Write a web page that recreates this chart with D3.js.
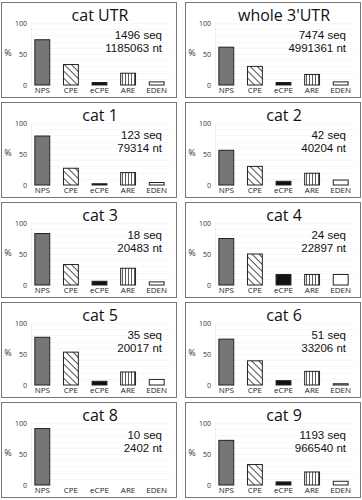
<!DOCTYPE html>
<html><head><meta charset="utf-8">
<script src="https://cdn.jsdelivr.net/npm/d3@7"></script>
<style>body{margin:0;background:#fff}svg{display:block}</style>
</head><body>
<script>
const categories = ["NPS","CPE","eCPE","ARE","EDEN"];
const titles = ["cat UTR","whole 3'UTR","cat 1","cat 2","cat 3","cat 4","cat 5","cat 6","cat 8","cat 9"];
const seqCounts = ["1496 seq","7474 seq","123 seq","42 seq","18 seq","24 seq","35 seq","51 seq","10 seq","1193 seq"];
const ntCounts = ["1185063 nt","4991361 nt","79314 nt","40204 nt","20483 nt","22897 nt","20017 nt","33206 nt","2402 nt","966540 nt"];
const valuesCatUTR = [73,33,4,19,5];
const valuesWhole = [61,30,4,17,5];
const valuesCat1 = [79,27,2,20,4];
const valuesCat2 = [56,30,6,19,8];
const valuesCat3 = [83,33,6,27,5];
const valuesCat4 = [75,50,17,17,17];
const valuesCat5 = [77,53,6,21,9];
const valuesCat6 = [74,39,7,22,2];
const valuesCat8 = [91,0,0,0,0];
const valuesCat9 = [72,33,5,21,6];
const yTicks = [0,50,100];
const allValues = [valuesCatUTR,valuesWhole,valuesCat1,valuesCat2,valuesCat3,valuesCat4,valuesCat5,valuesCat6,valuesCat8,valuesCat9];

const W = 362, H = 500;
const svg = d3.select("body").append("svg").attr("width",W).attr("height",H);
const defs = svg.append("defs");
const pd = defs.append("pattern").attr("id","diag").attr("patternUnits","userSpaceOnUse")
  .attr("width",5).attr("height",5).attr("patternTransform","rotate(-45)");
pd.append("rect").attr("width",5).attr("height",5).attr("fill","#fff");
pd.append("line").attr("x1",0).attr("y1",0).attr("x2",0).attr("y2",5).attr("stroke","#222").attr("stroke-width",1.6);
const pv = defs.append("pattern").attr("id","vert").attr("patternUnits","userSpaceOnUse")
  .attr("width",3).attr("height",3);
pv.append("rect").attr("width",3).attr("height",3).attr("fill","#fff");
pv.append("line").attr("x1",1.5).attr("y1",0).attr("x2",1.5).attr("y2",3).attr("stroke","#333").attr("stroke-width",0.8);

const fills = {NPS:"#767676",CPE:"url(#diag)",eCPE:"#111",ARE:"url(#vert)",EDEN:"#fff"};
const font = "'Open Sans', sans-serif";
const infoFont = "'Liberation Sans', Arial, sans-serif";

const panelW = 175, panelH = 95;
const colX = [1,185], rowY0 = 2, rowStep = 100;

const x = d3.scaleBand().domain(categories).range([27,170]).paddingInner(0.48).paddingOuter(0.24);
const y = d3.scaleLinear().domain([0,100]).range([83,21]);

allValues.forEach((vals,i)=>{
  const col = i%2, row = Math.floor(i/2);
  const g = svg.append("g").attr("transform",`translate(${colX[col]},${rowY0+row*rowStep})`);
  g.append("rect").attr("x",0.5).attr("y",0.5).attr("width",panelW).attr("height",panelH)
    .attr("fill","#fff").attr("stroke","#777").attr("stroke-width",1);
  // gridlines
  g.append("g").selectAll("line").data(d3.range(10,101,10)).join("line")
    .attr("x1",30).attr("x2",172).attr("y1",d=>Math.round(y(d))+0.5).attr("y2",d=>Math.round(y(d))+0.5)
    .attr("stroke","#e6e6e6").attr("stroke-width",0.6).attr("stroke-dasharray","1,1");
  // axis
  const ax = g.append("g").attr("transform","translate(30,0)")
    .call(d3.axisLeft(y).tickValues(yTicks).tickSize(0).tickPadding(4));
  ax.select(".domain").attr("stroke","#ccc").attr("stroke-width",0.6).attr("stroke-dasharray","1,1");
  ax.selectAll("text").attr("font-family",font).attr("font-size",7).attr("fill","#333");
  g.append("text").attr("x",7).attr("y",54).attr("text-anchor","middle")
    .attr("font-family",font).attr("font-size",9).attr("fill","#333").text("%");
  // bars
  g.selectAll(".bar").data(categories.map((c,k)=>({c,v:vals[k]})).filter(d=>d.v>0)).join("rect")
    .attr("x",d=>x(d.c)).attr("width",x.bandwidth())
    .attr("y",d=>y(d.v)).attr("height",d=>y(0)-y(d.v))
    .attr("fill",d=>fills[d.c]).attr("stroke","#222").attr("stroke-width",1);
  // category labels
  g.selectAll(".cl").data(categories).join("text")
    .attr("x",d=>x(d)+x.bandwidth()/2).attr("y",91).attr("text-anchor","middle")
    .attr("font-family",font).attr("font-size",8).attr("fill","#222").text(d=>d);
  g.append("text").attr("x",99).attr("y",19).attr("text-anchor","middle")
    .attr("font-family",font).attr("font-size",16).attr("fill","#111").text(titles[i]);
  g.append("text").attr("x",161).attr("y",36.5).attr("text-anchor","end")
    .attr("font-family",infoFont).attr("font-size",11.5).attr("fill","#111").text(seqCounts[i]);
  g.append("text").attr("x",161).attr("y",49.5).attr("text-anchor","end")
    .attr("font-family",infoFont).attr("font-size",11.5).attr("fill","#111").text(ntCounts[i]);
});
</script>
</body></html>
